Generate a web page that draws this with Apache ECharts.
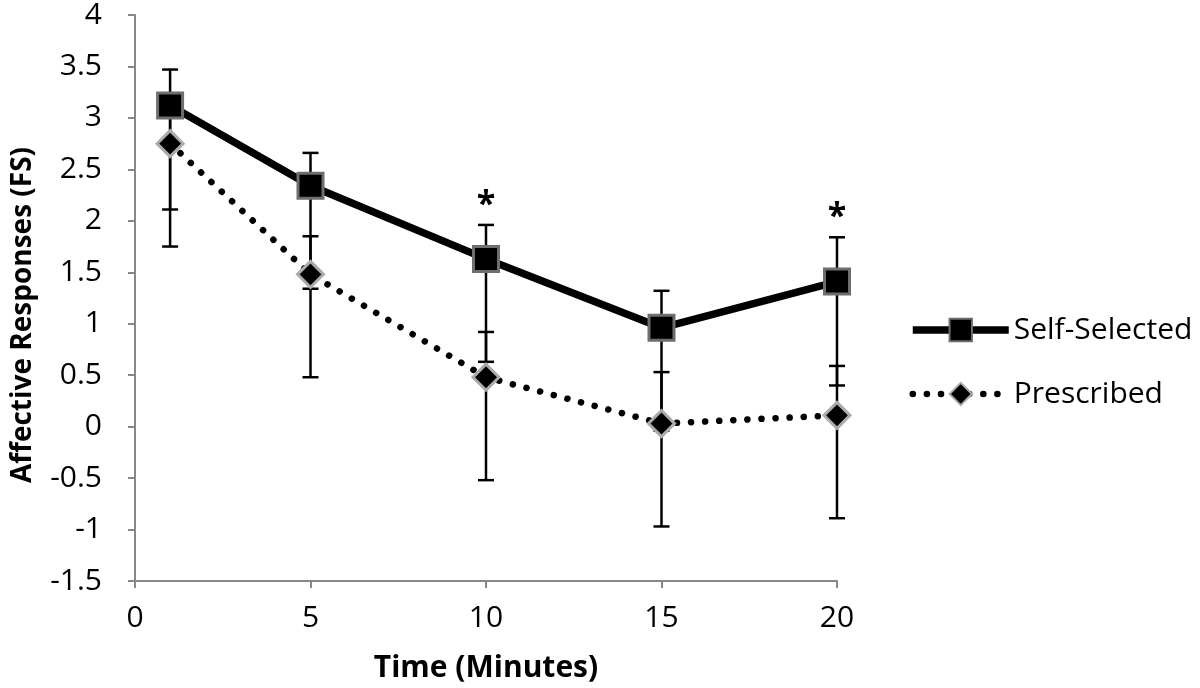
<!DOCTYPE html>
<html>
<head>
<meta charset="utf-8">
<script src="https://cdn.jsdelivr.net/npm/echarts@6/dist/echarts.min.js"></script>
<style>
html,body{margin:0;padding:0;background:#fff;}
#chart{width:1200px;height:688px;}
</style>
</head>
<body>
<div id="chart"></div>
<script>
// ---- data ----
const times = [1, 5, 10, 15, 20];
const selfMean  = [3.12, 2.34, 1.63, 0.96, 1.41];
const selfUpper = [3.47, 2.66, 1.96, 1.32, 1.84];
const selfLower = [2.11, 1.34, 0.63, -0.04, 0.40];
const presMean  = [2.75, 1.48, 0.48, 0.03, 0.11];
const presUpper = [3.12, 1.85, 0.92, 0.53, 0.59];
const presLower = [1.75, 0.48, -0.52, -0.97, -0.89];
const significant = [0, 0, 1, 0, 1];
const seriesNames = ['Self-Selected', 'Prescribed'];
const xTicks = [0, 5, 10, 15, 20];
const yTicks = [-1.5, -1, -0.5, 0, 0.5, 1, 1.5, 2, 2.5, 3, 3.5, 4];

const FONT = '"Open Sans", sans-serif';
const AXIS_COLOR = '#878787';

const selfPts = times.map((t, i) => [t, selfMean[i]]);
const presPts = times.map((t, i) => [t, presMean[i]]);
const selfErr = times.map((t, i) => [t, selfLower[i], selfUpper[i], significant[i]]);
const presErr = times.map((t, i) => [t, presLower[i], presUpper[i], 0]);

function errRender(params, api) {
  const x = api.value(0), lo = api.value(1), hi = api.value(2), sig = api.value(3);
  const pHi = api.coord([x, hi]);
  const pLo = api.coord([x, lo]);
  const cap = 8;
  const st = { stroke: '#000', lineWidth: 2.5 };
  const children = [
    { type: 'line', shape: { x1: pHi[0], y1: pHi[1], x2: pLo[0], y2: pLo[1] }, style: st },
    { type: 'line', shape: { x1: pHi[0] - cap, y1: pHi[1], x2: pHi[0] + cap, y2: pHi[1] }, style: st },
    { type: 'line', shape: { x1: pLo[0] - cap, y1: pLo[1], x2: pLo[0] + cap, y2: pLo[1] }, style: st }
  ];
  if (sig) {
    children.push({
      type: 'text',
      style: {
        x: pHi[0], y: pHi[1] - 20, text: '*',
        font: 'bold 34px ' + FONT, fill: '#000',
        align: 'center', verticalAlign: 'middle'
      }
    });
  }
  return { type: 'group', children };
}

const chart = echarts.init(document.getElementById('chart'), null, { renderer: 'canvas' });
chart.setOption({
  animation: false,
  backgroundColor: '#fff',
  grid: { left: 135, right: 363, top: 13, bottom: 105, containLabel: false },
  xAxis: {
    type: 'value', min: 0, max: 20, interval: 5,
    name: 'Time (Minutes)', nameLocation: 'middle', nameGap: 72,
    nameTextStyle: { fontFamily: FONT, fontWeight: 'bold', fontSize: 30, color: '#000' },
    axisLine: { show: true, onZero: false, lineStyle: { color: AXIS_COLOR, width: 2 } },
    axisTick: { show: true, inside: false, length: 7, lineStyle: { color: AXIS_COLOR, width: 2 } },
    axisLabel: { fontFamily: FONT, fontSize: 30, color: '#000', margin: 22,
      formatter: v => xTicks.includes(v) ? String(v) : '' },
    splitLine: { show: false }
  },
  yAxis: {
    type: 'value', min: -1.5, max: 4, interval: 0.5,
    name: 'Affective Responses (FS)', nameLocation: 'middle', nameGap: 98,
    nameRotate: 90,
    nameTextStyle: { fontFamily: FONT, fontWeight: 'bold', fontSize: 28, color: '#000',
      padding: [0, 34, 0, 0] },
    axisLine: { show: true, onZero: false, lineStyle: { color: AXIS_COLOR, width: 2 } },
    axisTick: { show: true, inside: false, length: 7, lineStyle: { color: AXIS_COLOR, width: 2 } },
    axisLabel: { fontFamily: FONT, fontSize: 30, color: '#000', margin: 33,
      formatter: v => yTicks.includes(v) ? String(v) : '' },
    splitLine: { show: false }
  },
  legend: {
    orient: 'vertical', left: 904, top: 310,
    itemWidth: 96, itemHeight: 28, itemGap: 34,
    data: seriesNames,
    lineStyle: { width: 'inherit' },
    textStyle: { fontFamily: FONT, fontSize: 30, color: '#000' }
  },
  series: [
    { type: 'custom', name: 'err-self', data: selfErr, renderItem: errRender,
      encode: { x: 0, y: [1, 2] }, z: 1, silent: true },
    { type: 'custom', name: 'err-pres', data: presErr, renderItem: errRender,
      encode: { x: 0, y: [1, 2] }, z: 1, silent: true },
    {
      type: 'line', name: seriesNames[1], data: presPts, z: 3,
      symbol: 'diamond', symbolSize: 26, showAllSymbol: true,
      lineStyle: { color: '#000', width: 6.5, type: [0.1, 14], cap: 'round' },
      itemStyle: { color: '#000', borderColor: '#ababab', borderWidth: 3 }
    },
    {
      type: 'line', name: seriesNames[0], data: selfPts, z: 4,
      symbol: 'rect', symbolSize: 25, showAllSymbol: true,
      lineStyle: { color: '#000', width: 7.5 },
      itemStyle: { color: '#000', borderColor: '#6e6e6e', borderWidth: 3 }
    }
  ]
});
</script>
</body>
</html>
